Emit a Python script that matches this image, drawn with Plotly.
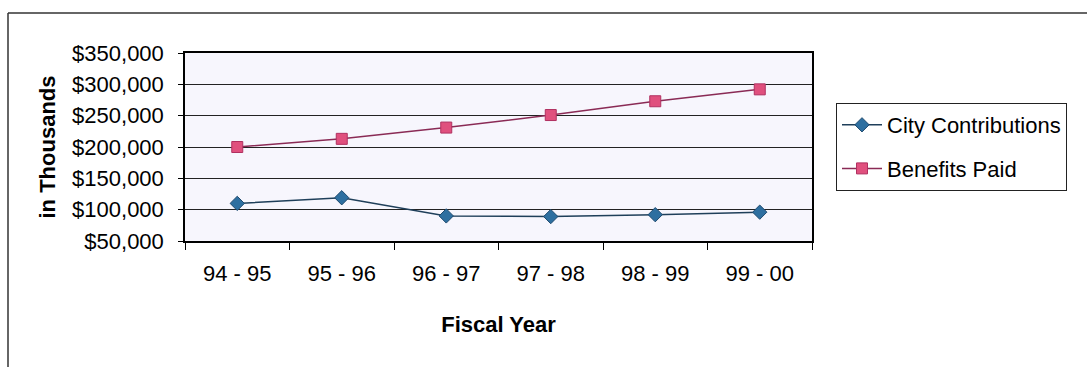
import plotly.graph_objects as go

# Fiscal years and dollar amounts (in thousands)
fiscal_years = ["94 - 95", "95 - 96", "96 - 97", "97 - 98", "98 - 99", "99 - 00"]
city_contributions = [110000, 119000, 90000, 89000, 92000, 96000]
benefits_paid = [200000, 213000, 231000, 251000, 273000, 292000]

y_ticks = [50000, 100000, 150000, 200000, 250000, 300000, 350000]
y_tick_labels = ["$50,000", "$100,000", "$150,000", "$200,000", "$250,000", "$300,000", "$350,000"]

FONT = "Liberation Sans, Arial, sans-serif"

# plot area in pixels
PLOT_L, PLOT_R, PLOT_T, PLOT_B = 185, 812, 53, 241
W, H = 1087, 367
PW, PH = PLOT_R - PLOT_L, PLOT_B - PLOT_T

fig = go.Figure()

fig.add_trace(go.Scatter(
    x=fiscal_years, y=city_contributions, name="City Contributions",
    mode="lines+markers", legendgroup="city",
    line=dict(color="#1f3f5a", width=1.5),
    marker=dict(symbol="diamond", size=11, color="#2e6fa0",
                line=dict(color="#1f4a6e", width=1)),
))
fig.add_trace(go.Scatter(
    x=fiscal_years, y=benefits_paid, name="Benefits Paid",
    mode="lines+markers", legendgroup="benefits",
    line=dict(color="#8a2a55", width=1.5),
    marker=dict(symbol="square", size=11, color="#e0507e",
                line=dict(color="#b03060", width=1)),
))

fig.update_layout(
    width=W, height=H,
    margin=dict(l=PLOT_L, r=W - PLOT_R, t=PLOT_T, b=H - PLOT_B),
    paper_bgcolor="white",
    plot_bgcolor="#f7f6fd",
    font=dict(family=FONT, size=22, color="black"),
    showlegend=True,
    legend=dict(
        x=(836 - PLOT_L) / PW, xanchor="left", xref="paper",
        y=(PLOT_B - 103) / PH, yanchor="top",
        bordercolor="#222", borderwidth=1, bgcolor="white",
        font=dict(family=FONT, size=22, color="black"),
        itemwidth=40, tracegroupgap=12,
    ),
    xaxis=dict(
        type="category",
        range=[-0.5, len(fiscal_years) - 0.5],
        showline=True, linecolor="black", linewidth=1.5, mirror=True,
        ticks="outside", ticklen=7, tickcolor="black",
        tickson="boundaries", ticklabelstandoff=12,
        showgrid=False,
        tickfont=dict(family=FONT, size=22),
        title=dict(text="<b>Fiscal Year</b>", font=dict(family=FONT, size=22), standoff=31),
    ),
    yaxis=dict(
        range=[50000, 350000],
        tickvals=y_ticks, ticktext=y_tick_labels,
        showline=True, linecolor="black", linewidth=1.5, mirror=True,
        ticks="outside", ticklen=5, tickcolor="black",
        ticklabelstandoff=10,
        showgrid=True, gridcolor="#222", gridwidth=1.2,
        zeroline=False,
        tickfont=dict(family=FONT, size=22),
        title=dict(text="<b>in Thousands</b>", font=dict(family=FONT, size=22), standoff=10),
    ),
)

# Outer chart frame (left and top edges)
frame_x = -(PLOT_L - 8) / PW
frame_top = (PLOT_B - 13) / PH
fig.add_shape(type="line", xref="paper", yref="paper",
              x0=frame_x, x1=frame_x, y0=-(H - PLOT_B) / PH, y1=frame_top,
              line=dict(color="#333", width=1.5))
fig.add_shape(type="line", xref="paper", yref="paper",
              x0=frame_x, x1=(W - PLOT_L) / PW, y0=frame_top, y1=frame_top,
              line=dict(color="#333", width=1.5))

fig.write_html("out.html")
